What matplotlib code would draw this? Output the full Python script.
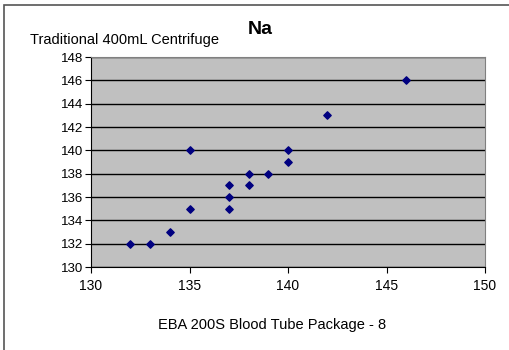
import matplotlib.pyplot as plt
from matplotlib.patches import Rectangle

plt.rcParams['font.family'] = ['Liberation Sans', 'DejaVu Sans']

# EBA 200S vs traditional centrifuge, Na values
eba = [132, 133, 134, 135, 135, 137, 137, 137, 138, 138, 139, 140, 140, 142, 146]
trad = [132, 132, 133, 140, 135, 137, 136, 135, 138, 137, 138, 140, 139, 143, 146]

fig = plt.figure(figsize=(5.1, 3.5), dpi=100)
fig.patch.set_facecolor('white')

# outer chart border (cropped at right/bottom)
fig.patches.append(Rectangle((4 / 510, -0.1), 1.2, 1 - 5 / 350 + 0.1, transform=fig.transFigure,
                             fill=False, edgecolor='#555555', linewidth=1.2))

ax = fig.add_axes([91 / 510, 1 - 267 / 350, 394 / 510, 210 / 350])
ax.set_facecolor('#C0C0C0')
ax.scatter(eba, trad, marker='D', s=14, color='#000080', zorder=3)

ax.set_xlim(130, 150)
ax.set_ylim(130, 148)
ax.set_xticks(range(130, 151, 5))
ax.set_yticks(range(130, 149, 2))
ax.yaxis.grid(True, color='black', linewidth=1)
ax.set_axisbelow(True)

for s in ['top', 'right']:
    ax.spines[s].set_color('#808080')
ax.spines['left'].set_color('black')
ax.spines['bottom'].set_color('black')

ax.tick_params(axis='y', labelsize=9.5, length=4, pad=1.5)
ax.tick_params(axis='x', labelsize=10, length=4, pad=5)

ax.set_xlabel('EBA 200S Blood Tube Package - 8', fontsize=10.5)
ax.xaxis.set_label_coords(0.46, -0.245)
fig.text(30 / 510, 1 - 40 / 350, 'Traditional 400mL Centrifuge', fontsize=10.5, va='center', ha='left')
fig.text(260 / 510, 1 - 30 / 350, 'Na', fontsize=14, fontweight='bold', va='center', ha='center')

fig.savefig('out.png', dpi=100)
